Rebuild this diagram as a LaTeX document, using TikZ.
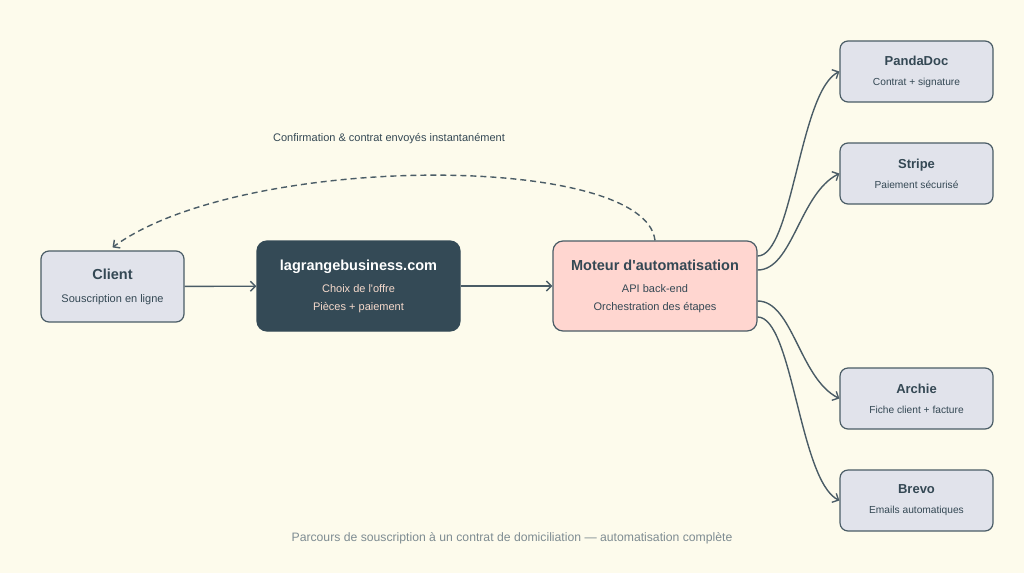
\documentclass[tikz,border=0pt]{standalone}
\usepackage{fontspec}
\setmainfont{Liberation Sans}[Ligatures=TeXOff]
\usetikzlibrary{arrows.meta}
\definecolor{cream}{RGB}{253, 251, 236}
\definecolor{mist}{RGB}{225, 227, 235}
\definecolor{slate}{RGB}{74, 92, 102}
\definecolor{ink}{RGB}{52, 72, 84}
\definecolor{midnight}{RGB}{52, 74, 86}
\definecolor{blush}{RGB}{255, 214, 208}
\definecolor{peach}{RGB}{246, 218, 204}
\definecolor{fog}{RGB}{126, 140, 146}
\newcommand{\boxhead}[2]{{\fontsize{#1}{18}\selectfont\bfseries #2}}

\begin{document}
\begin{tikzpicture}[x=1pt, y=-1pt,
    box/.style   = {draw=slate, fill=mist, line width=1.2pt, rounded corners=8pt, align=center,
                    text=ink, inner sep=0pt, font=\fontsize{11}{18}\selectfont},
    tool/.style  = {box, minimum width=153pt, minimum height=61pt, font=\fontsize{10.2}{18}\selectfont},
    flow/.style  = {draw=slate, line width=1.4pt, -{Straight Barb[length=5pt, width=10pt, line width=1.4pt]}},
    note/.style  = {text=ink, font=\fontsize{11}{13}\selectfont}]
    \fill[cream] (0,0) rectangle (1024,573);
    \useasboundingbox (0,0) rectangle (1024,573);

    \node[box, minimum width=143pt, minimum height=71pt]                          (client)    at (112.5,286.5) {\boxhead{14.5}{Client}\\[5pt]Souscription en ligne};
    \node[box, minimum width=203pt, minimum height=90pt, fill=midnight, draw=midnight,
          rounded corners=10pt, text=peach]                                        (site)      at (358.5,286)   {\textcolor{white}{\boxhead{14.5}{lagrangebusiness.com}}\\[4pt]Choix de l'offre\\Pièces + paiement};
    \node[box, minimum width=204pt, minimum height=90pt, fill=blush, rounded corners=10pt] (moteur) at (655,286) {\boxhead{14.5}{Moteur d'automatisation}\\[4pt]API back-end\\Orchestration des étapes};

    \node[tool] (pandadoc) at (916.5, 71.5) {\boxhead{13}{PandaDoc}\\[2pt]Contrat + signature};
    \node[tool] (stripe)   at (916.5,173.5) {\boxhead{13}{Stripe}\\[2pt]Paiement sécurisé};
    \node[tool] (archie)   at (916.5,398.5) {\boxhead{13}{Archie}\\[2pt]Fiche client + facture};
    \node[tool] (brevo)    at (916.5,500.5) {\boxhead{13}{Brevo}\\[2pt]Emails automatiques};

    \draw[flow] (client) -- (site);
    \draw[flow] (site)   -- (moteur);

    \draw[flow] ([yshift= 30pt]moteur.east) .. controls +(35,0) and +(-40,20)  .. (pandadoc.west);
    \draw[flow] ([yshift= 16pt]moteur.east) .. controls +(35,0) and +(-40,20)  .. (stripe.west);
    \draw[flow] ([yshift=-15pt]moteur.east) .. controls +(35,0) and +(-40,-20) .. (archie.west);
    \draw[flow] ([yshift=-31pt]moteur.east) .. controls +(35,0) and +(-40,-20) .. (brevo.west);

    \draw[flow, dash pattern=on 6pt off 4pt] (moteur.north) .. controls +(-10,-88) and +(130,-95) .. ([yshift=3pt]client.north);

    \node[note]           (retour)  at (389,139) {Confirmation \& contrat envoyés instantanément};
    \node[note, text=fog, font=\fontsize{12.2}{14}\selectfont] (legende) at (512,538) {Parcours de souscription à un contrat de domiciliation — automatisation complète};
\end{tikzpicture}
\end{document}
